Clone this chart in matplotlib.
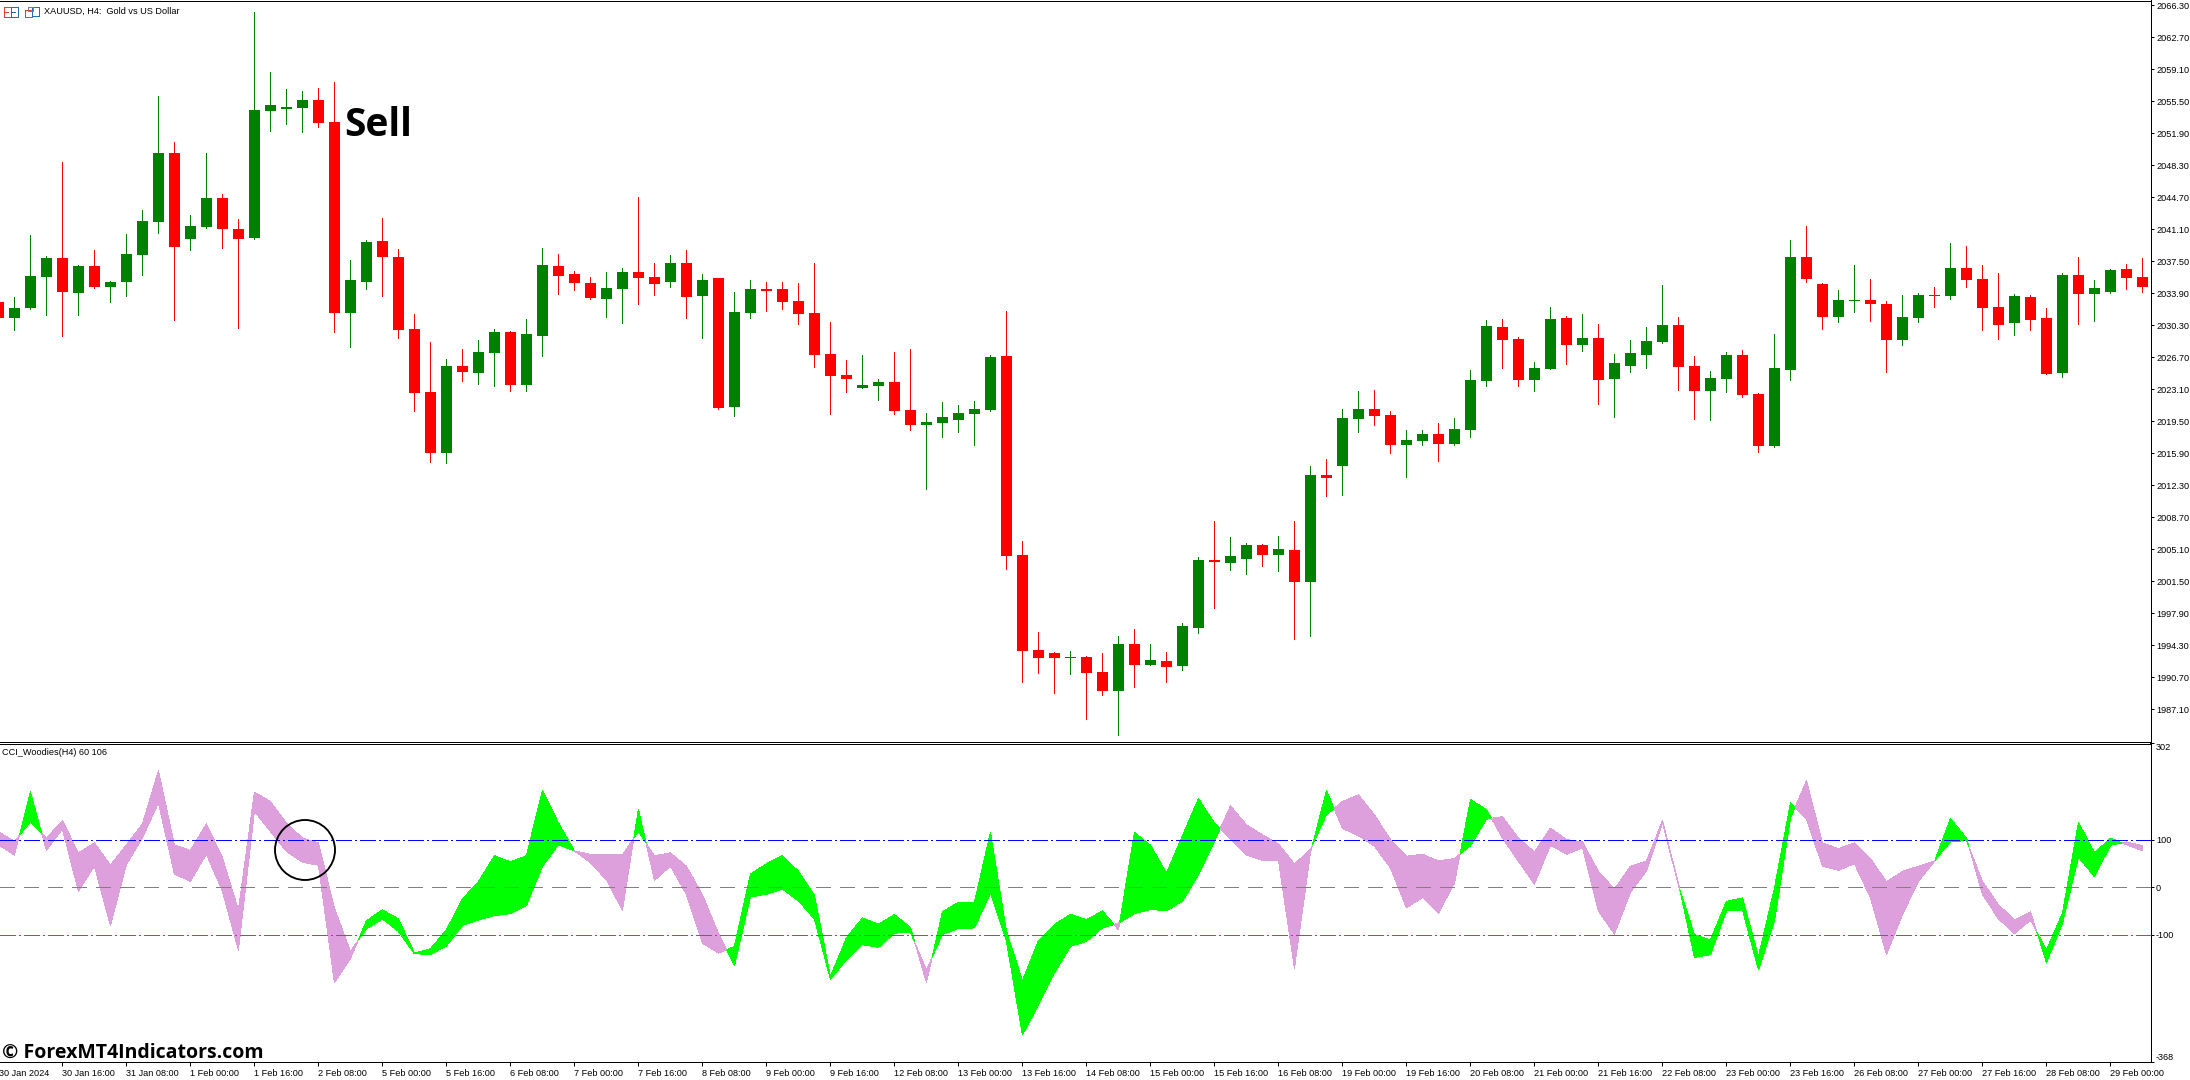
import matplotlib
matplotlib.use("Agg")
import matplotlib.pyplot as plt
import numpy as np
from matplotlib.patches import Circle, Rectangle
from matplotlib.transforms import Affine2D

opens = [2032.93,2031.16,2032.25,2035.74,2037.88,2033.94,2036.98,2034.61,2035.18,2038.21,
2041.92,2049.68,2040.01,2041.36,2044.62,2041.14,2040.12,2054.41,2054.63,2054.74,
2055.64,2053.17,2031.69,2035.18,2039.79,2037.99,2029.89,2022.80,2015.95,2025.73,
2024.94,2027.19,2029.55,2023.59,2029.10,2036.98,2036.08,2035.06,2033.26,2034.39,
2036.30,2035.74,2035.18,2037.31,2033.60,2035.63,
2021.10,2031.69,2034.40,2034.40,2033.02,2031.69,2027.08,2024.71,2023.25,2023.47,
2023.94,2020.80,2019.08,2019.33,2019.64,2020.32,2020.80,2026.87,2004.49,1993.77,
1993.42,1992.87,1992.99,1991.32,1989.08,1994.46,1992.09,1992.56,1992.00,1996.27,
2003.93,2003.58,2004.01,2005.60,2004.49,2005.05,2001.43,2013.48,2014.47,2019.76,
2020.88,2020.19,2016.84,2017.31,2018.09,2016.97,
2018.52,2024.02,2030.09,2028.76,2024.15,2025.40,2031.13,2028.07,2028.89,2024.28,
2025.75,2026.95,2028.41,2030.35,2025.75,2022.91,2024.28,2026.95,2022.56,2016.71,
2025.27,2037.97,2034.96,2031.26,2033.02,2033.15,2032.72,2028.63,2031.13,2033.71,
2033.58,2036.76,2035.52,2032.37,2030.57,2033.49,2031.13,2024.93,2035.95,2033.84,
2034.05,2036.64,2035.73]
closes = [2031.16,2032.25,2035.85,2037.88,2034.05,2036.98,2034.61,2035.18,2038.32,2042.04,
2049.68,2039.11,2041.47,2044.62,2041.14,2040.01,2054.52,2055.08,2054.86,2055.64,
2053.06,2031.69,2035.40,2039.67,2037.99,2029.78,2022.69,2015.95,2025.73,2025.05,
2027.30,2029.55,2023.59,2029.33,2037.09,2035.85,2035.06,2033.38,2034.50,2036.30,
2035.63,2034.95,2037.31,2033.49,2035.40,2021.00,
2031.81,2034.40,2034.18,2032.93,2031.56,2026.95,2024.58,2024.28,2023.59,2023.94,
2020.67,2019.08,2019.42,2019.98,2020.45,2020.88,2026.74,2004.36,1993.68,1992.87,
1992.87,1992.99,1991.19,1989.08,1994.46,1992.09,1992.65,1991.88,1996.48,2003.93,
2003.67,2004.36,2005.60,2004.49,2005.13,2001.43,2013.48,2013.14,2019.89,2020.88,
2020.11,2016.84,2017.40,2018.09,2016.97,2018.65,
2024.15,2030.22,2028.63,2024.15,2025.49,2031.00,2028.07,2028.89,2024.15,2026.05,
2027.17,2028.54,2030.35,2025.62,2022.91,2024.37,2026.95,2022.48,2016.71,2025.49,
2037.97,2035.52,2031.26,2033.15,2033.15,2032.72,2028.63,2031.26,2033.71,2033.58,
2036.76,2035.39,2032.25,2030.35,2033.58,2030.91,2024.84,2035.95,2033.84,2034.48,
2036.51,2035.60,2034.61]
highs = [2032.93,2033.49,2040.46,2038.10,2048.67,2037.09,2038.78,2035.29,2040.57,2043.27,
2056.09,2050.92,2042.71,2049.68,2045.07,2042.26,2065.54,2058.79,2056.88,2056.66,
2057.00,2057.67,2037.65,2039.90,2042.37,2038.89,2031.58,2028.43,2026.52,2027.64,
2028.65,2029.89,2029.66,2031.02,2039.00,2038.32,2036.41,2035.74,2036.30,2036.75,
2044.74,2037.31,2038.21,2038.78,2036.08,2035.63,
2034.05,2035.39,2035.17,2035.17,2035.04,2037.32,2030.70,2026.39,2026.95,2024.28,
2027.30,2027.64,2020.45,2021.66,2021.36,2021.79,2026.95,2031.90,2006.04,1995.79,
1993.55,1993.68,1993.12,1993.42,1995.36,1996.14,1994.46,1993.55,1996.83,2004.23,
2008.27,2006.51,2005.82,2005.69,2006.59,2008.27,2014.47,2015.25,2020.88,2022.91,
2023.04,2020.67,2018.52,2018.52,2019.33,2019.89,
2025.27,2030.91,2031.00,2028.97,2026.18,2032.37,2031.34,2031.56,2030.44,2027.08,
2028.63,2030.09,2034.83,2031.26,2026.87,2025.14,2027.30,2027.51,2022.69,2029.32,
2039.91,2041.46,2035.04,2034.27,2037.07,2035.52,2033.02,2033.71,2033.92,2034.61,
2039.56,2039.22,2037.07,2036.20,2033.84,2033.71,2032.25,2036.20,2037.97,2035.39,
2036.64,2037.19,2037.88]
lows = [2031.16,2029.78,2032.14,2031.46,2029.10,2031.46,2034.50,2032.93,2033.60,2035.96,
2040.69,2030.90,2038.78,2041.25,2039.00,2030.00,2040.01,2052.16,2052.94,2052.05,
2052.61,2029.55,2027.87,2034.39,2033.60,2028.88,2020.67,2014.93,2014.82,2024.04,
2023.70,2023.48,2022.92,2022.92,2026.85,2033.83,2034.28,2033.26,2031.24,2030.57,
2032.70,2033.71,2034.61,2031.13,2028.88,2020.89,
2020.11,2031.13,2031.90,2032.12,2030.44,2025.62,2020.32,2022.82,2023.25,2021.92,
2020.32,2018.52,2011.89,2017.74,2018.30,2016.84,2020.67,2002.89,1990.20,1991.19,
1988.95,1991.10,1986.02,1988.73,1984.21,1989.64,1992.09,1990.20,1991.53,1995.71,
1998.50,2002.76,2002.33,2003.24,2002.68,1995.02,1995.36,2011.11,2011.20,2018.30,
2019.08,2015.93,2013.22,2016.84,2015.03,2016.84,
2017.74,2023.47,2025.49,2023.47,2022.91,2025.40,2025.96,2027.42,2021.44,2019.98,
2025.06,2025.49,2028.33,2023.04,2019.76,2019.64,2022.82,2022.26,2016.06,2016.62,
2024.15,2035.17,2029.88,2030.70,2031.81,2030.78,2025.06,2028.07,2030.70,2032.37,
2033.28,2034.61,2029.79,2028.76,2029.23,2029.79,2024.84,2024.50,2030.44,2030.78,
2033.92,2034.40,2034.05]

cci_fast = [89,67,200,77,122,-9,44,-81,47,103,177,27,12,69,-9,-133,159,117,75,52,46,-201,-151,
-71,-48,-67,-139,-130,-90,-25,11,66,53,66,203,135,76,51,15,-49,164,14,44,-16,-118,-139,
-125,27,49,66,33,-18,-188,-107,-65,-78,-58,-85,-201,-52,-32,-32,115,-93,-197,-113,-79,-57,-69,
-50,-90,115,88,29,108,186,135,100,67,56,56,-171,72,203,123,108,86,40,-44,-22,-55,8,
184,163,103,54,6,88,69,82,-51,-99,-11,34,135,3,-100,-111,-30,-23,-146,-2,177,142,44,
35,49,-23,-142,-58,12,54,144,103,-16,-67,-98,-70,-132,-55,136,72,103,89,76]
cci_slow = [117,96,137,103,140,72,93,46,89,133,245,89,77,133,62,-48,200,180,135,103,93,-44,-135,
-88,-67,-93,-140,-142,-124,-81,-69,-60,-56,-39,44,89,76,69,69,68,117,66,72,44,-16,-97,
-165,-21,-15,-4,-29,-67,-194,-153,-121,-127,-97,-95,-174,-100,-87,-86,-13,-114,-311,-248,-181,-125,-114,
-86,-76,-56,-47,-50,-30,26,96,171,131,110,91,49,79,152,180,194,152,100,65,69,55,60,
87,143,148,103,74,124,100,95,33,-4,44,55,140,8,-148,-142,-50,-48,-174,-72,145,224,93,
81,93,60,11,33,44,55,95,98,12,-37,-69,-52,-159,-76,63,22,88,95,87]

price_ticks = [2066.30,2062.70,2059.10,2055.50,2051.90,2048.30,2044.70,2041.10,2037.50,2033.90,
2030.30,2026.70,2023.10,2019.50,2015.90,2012.30,2008.70,2005.10,2001.50,1997.90,
1994.30,1990.70,1987.10]
cci_ticks = [302,100,0,-100,-368]
cci_levels = [100,0,-100]
date_labels = ["30 Jan 2024","30 Jan 16:00","31 Jan 08:00","1 Feb 00:00","1 Feb 16:00","2 Feb 08:00",
"5 Feb 00:00","5 Feb 16:00","6 Feb 08:00","7 Feb 00:00","7 Feb 16:00","8 Feb 08:00","9 Feb 00:00",
"9 Feb 16:00","12 Feb 08:00","13 Feb 00:00","13 Feb 16:00","14 Feb 08:00","15 Feb 00:00","15 Feb 16:00",
"16 Feb 08:00","19 Feb 00:00","19 Feb 16:00","20 Feb 08:00","21 Feb 00:00","21 Feb 16:00","22 Feb 08:00",
"23 Feb 00:00","23 Feb 16:00","26 Feb 08:00","27 Feb 00:00","27 Feb 16:00","28 Feb 08:00","29 Feb 00:00"]

W, H = 2190, 1080
PT = 0.72  # one pixel in points at 100 dpi
FS = 6.55
plt.rcParams['font.family'] = ['Liberation Sans', 'DejaVu Sans']
plt.rcParams['font.size'] = FS
plt.rcParams['lines.scale_dashes'] = False

fig = plt.figure(figsize=(W/100, H/100), dpi=100, facecolor='white')

def px_axes(x0, y0, x1, y1):
    return fig.add_axes([x0/W, 1-y1/H, (x1-x0)/W, (y1-y0)/H])

ax = px_axes(0, 0.5, 2150.5, 741.5)
ax2 = px_axes(0, 743.5, 2150.5, 1062)

n = len(opens)
x = np.arange(n)
o, h, l, c = map(np.array, (opens, highs, lows, closes))
col = np.where(c >= o, '#008000', '#ff0000')

ax.vlines(x, l, h, colors=col, linewidth=PT, antialiased=False, zorder=2)
ax.bar(x, np.abs(c-o), bottom=np.minimum(o, c), width=11/16, color=col,
       linewidth=0, antialiased=False, zorder=3)
xlim = (0.1, 134.5)
ax.set_xlim(*xlim)
ax.set_ylim(1983.45, 2066.85)
ax.set_xticks([])
ax.yaxis.tick_right()
ax.set_yticks(price_ticks)
ax.set_yticklabels([f"{p:.2f}" for p in price_ticks])

fast = np.array(cci_fast, float)
slow = np.array(cci_slow, float)
ax2.fill_between(x, fast, slow, where=fast >= slow, interpolate=True, color='#00ff00',
                 linewidth=0, antialiased=False, zorder=2)
ax2.fill_between(x, fast, slow, where=fast <= slow, interpolate=True, color='#dda0dd',
                 linewidth=0, antialiased=False, zorder=2)
dd = (16*PT, 3*PT, 2*PT, 3*PT)
ax2.axhline(cci_levels[0], color='#0000ff', lw=PT*1.4, dashes=dd, antialiased=False, zorder=4)
ax2.axhline(cci_levels[1], color='#808080', lw=PT*1.4, dashes=(14*PT, 10*PT), antialiased=False, zorder=4)
ax2.axhline(cci_levels[2], color='#ff00ff', lw=PT*1.4, dashes=dd, antialiased=False, zorder=4)
ax2.set_xlim(*xlim)
ax2.set_ylim(-368, 302)
ax2.yaxis.tick_right()
ax2.set_yticks(cci_ticks)
ax2.set_yticklabels([str(t) for t in cci_ticks])
for lbl, t in zip(ax2.get_yticklabels(), cci_ticks):
    if t == 302:
        lbl.set_va('top')
    elif t == -368:
        lbl.set_va('bottom')

tick_idx = np.arange(0, n, 4)
ax2.set_xticks(tick_idx[1:])
ax2.set_xticklabels(date_labels[1:], ha='left')
ax2.annotate(date_labels[0], xy=(tick_idx[0], 0), xycoords=('data', 'axes fraction'),
             xytext=(0.7, -6.5*PT), textcoords='offset points', ha='left', va='top',
             annotation_clip=False, fontsize=FS)

for a in (ax, ax2):
    for s in a.spines.values():
        s.set_linewidth(PT)
        s.set_color('black')
    a.spines['left'].set_visible(False)
    a.tick_params(axis='y', length=3*PT, width=PT, pad=2.5*PT, labelsize=FS, colors='black')
    a.tick_params(axis='x', length=4*PT, width=PT, pad=2.5*PT, labelsize=FS, colors='black')
    a.set_facecolor('white')

T = Affine2D().scale(1, -1).translate(0, H)
# pixel-placed annotations drawn over the pane (as the author drew them on the chart)
fig.add_artist(Rectangle((2150, 741.5), 0.8, 2, transform=T, color='black', lw=0))
fig.add_artist(Circle((305, 850), 30, transform=T, fill=False, ec='black', lw=1.35))
fig.text(344/W, 1-136/H, "Sell", family='Open Sans', weight='bold', fontsize=28, color='black', va='baseline')
fig.text(2/W, 1-1058/H, "\u00a9 ForexMT4Indicators.com", family='Open Sans', weight='bold',
         fontsize=14, color='black', va='baseline')
fig.text(44/W, 1-11.7/H, "XAUUSD, H4:  Gold vs US Dollar", fontsize=FS, color='black', va='center')
fig.text(2/W, 1-752.3/H, "CCI_Woodies(H4) 60 106", fontsize=FS, color='black', va='center')

# window icons next to the title
for (rx, ry, rw, rh, ec) in [(3.5, 6.5, 7, 10, '#e8402a'), (10.5, 6.5, 7, 10, '#1f6fbf'),
                             (24.5, 9.5, 7, 7, '#e8402a'), (31.5, 6.5, 7, 9, '#1f6fbf'),
                             (28, 6.5, 5, 4, '#808080')]:
    fig.add_artist(Rectangle((rx, ry), rw, rh, transform=T, fill=False, ec=ec, lw=PT, antialiased=False))
for yy in (9.5, 12, 14.5):
    fig.add_artist(Rectangle((5, yy), 4, 0.8, transform=T, color='#e8402a', lw=0))
    fig.add_artist(Rectangle((12, yy), 4, 0.8, transform=T, color='#1f6fbf', lw=0))

fig.savefig('out.png', dpi=100, facecolor='white')
